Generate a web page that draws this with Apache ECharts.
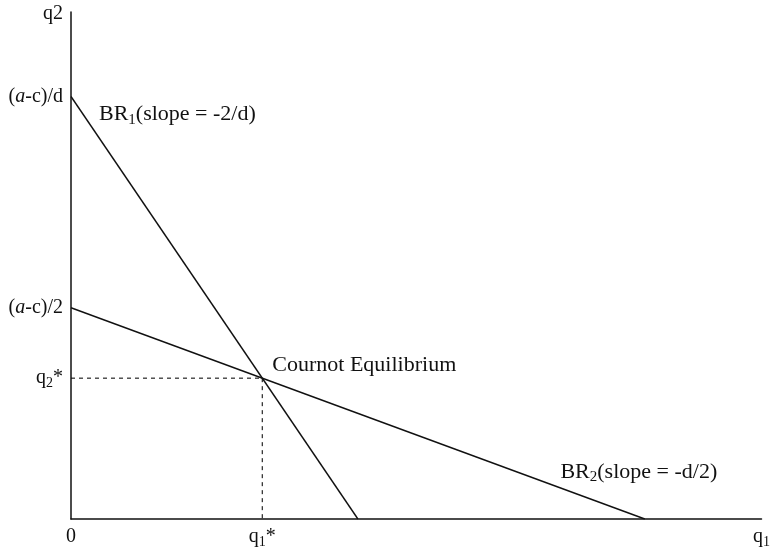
<!DOCTYPE html>
<html>
<head>
<meta charset="utf-8">
<script src="https://cdn.jsdelivr.net/npm/echarts@6/dist/echarts.min.js"></script>
<style>html,body{margin:0;padding:0;background:#fff;}#c{width:773px;height:551px;}</style>
</head>
<body>
<div id="c"></div>
<script>
// Data (in abstract units: q1* = 1, q2* = 1)
const br1Points = [[0, 3], [1.5, 0]];      // BR1: from (a-c)/d on q2 axis
const br2Points = [[0, 1.5], [3, 0]];      // BR2: from (a-c)/2 on q2 axis
const equilibrium = [1, 1];                // Cournot equilibrium (q1*, q2*)
const xTickValues = [0, 1];
const xTickLabels = ['{n|0}', '{n|q}{sub|1}{n|*}'];
const yTickValues = [1, 1.5, 3];
const yTickLabels = ['{n|q}{sub|2}{n|*}', '{n|(}{i|a}{n|-c)/2}', '{n|(}{i|a}{n|-c)/d}'];
const xMax = 3.61, yMax = 3.6;
const br1Label = '{m|BR}{msub|1}{m|(slope = -2/d)}';
const br2Label = '{m|BR}{msub|2}{m|(slope = -d/2)}';
const eqLabel = '{m|Cournot Equilibrium}';

const FONT = '"Liberation Serif", "Times New Roman", serif';
const FS = 20;
const TXT = '#111';
const rich = {
  n: {fontFamily: FONT, fontSize: FS, color: TXT, lineHeight: 24},
  i: {fontFamily: FONT, fontSize: FS, color: TXT, fontStyle: 'italic', lineHeight: 24},
  sub: {fontFamily: FONT, fontSize: 14, color: TXT, verticalAlign: 'bottom', lineHeight: 14},
  m: {fontFamily: FONT, fontSize: 22, color: TXT, lineHeight: 26},
  msub: {fontFamily: FONT, fontSize: 15, color: TXT, verticalAlign: 'bottom', lineHeight: 15}
};

const chart = echarts.init(document.getElementById('c'), null, {renderer: 'canvas'});
chart.setOption({
  animation: false,
  backgroundColor: '#fff',
  grid: {left: 71, right: 8, top: 12, bottom: 32, containLabel: false},
  xAxis: {
    type: 'value', min: 0, max: xMax,
    name: '{n|q}{sub|1}',
    nameLocation: 'end', nameGap: 0,
    nameTextStyle: {align: 'center', verticalAlign: 'top', padding: [6, 0, 0, 0], rich: rich},
    axisLine: {show: true, onZero: false, lineStyle: {color: '#111', width: 1.5}},
    axisTick: {show: false},
    splitLine: {show: false},
    axisLabel: {
      customValues: xTickValues,
      margin: 6,
      formatter: function (v) { return xTickLabels[xTickValues.indexOf(v)]; },
      rich: rich
    }
  },
  yAxis: {
    type: 'value', min: 0, max: yMax,
    name: '{n|q2}',
    nameLocation: 'end', nameGap: 0,
    nameTextStyle: {align: 'right', verticalAlign: 'middle', padding: [4, 8, 0, 0], rich: rich},
    axisLine: {show: true, onZero: false, lineStyle: {color: '#111', width: 1.5}},
    axisTick: {show: false},
    splitLine: {show: false},
    axisLabel: {
      customValues: yTickValues,
      margin: 8,
      formatter: function (v) { return yTickLabels[yTickValues.indexOf(v)]; },
      rich: rich
    }
  },
  series: [
    {type: 'line', data: br1Points, symbol: 'none', lineStyle: {color: '#111', width: 1.4}, silent: true},
    {type: 'line', data: br2Points, symbol: 'none', lineStyle: {color: '#111', width: 1.4}, silent: true},
    {type: 'line', data: [[0, equilibrium[1]], equilibrium], symbol: 'none',
      lineStyle: {color: '#111', width: 1.1, type: [4, 4]}, silent: true},
    {type: 'line', data: [equilibrium, [equilibrium[0], 0]], symbol: 'none',
      lineStyle: {color: '#111', width: 1.1, type: [4, 4]}, silent: true},
    {type: 'scatter', symbolSize: 0, silent: true, z: 10,
      itemStyle: {opacity: 1, color: '#111'},
      label: {color: TXT, opacity: 1},
      data: [
        {value: br1Points[0], label: {show: true, position: 'right', distance: 0, offset: [28, 18], formatter: br1Label, rich: rich}},
        {value: br2Points[1], label: {show: true, position: 'inside', offset: [-6, -47], formatter: br2Label, rich: rich}},
        {value: equilibrium, label: {show: true, position: 'inside', offset: [102, -13], formatter: eqLabel, rich: rich}}
      ]
    }
  ]
});
</script>
</body>
</html>
